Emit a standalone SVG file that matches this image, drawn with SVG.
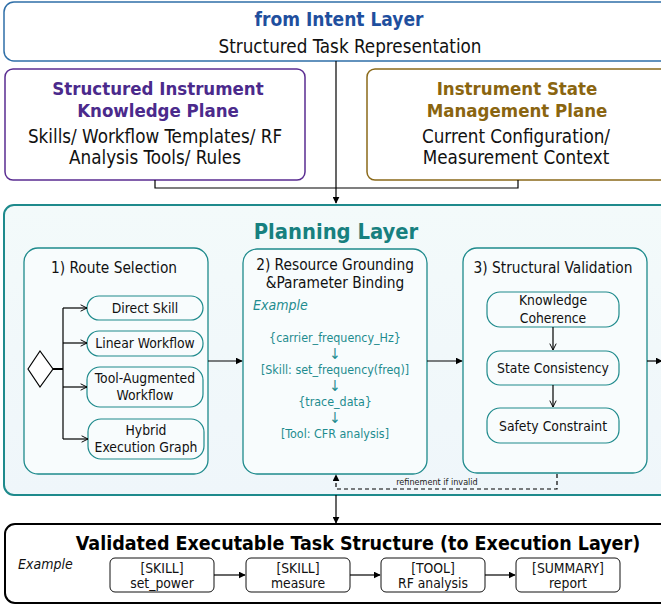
<svg xmlns="http://www.w3.org/2000/svg" width="661" height="605" viewBox="0 0 661 605">
<defs>
<marker id="fa" viewBox="0 0 10 10" refX="9" refY="5" markerWidth="7" markerHeight="7" orient="auto" markerUnits="userSpaceOnUse"><path d="M0,0 L10,5 L0,10 z" fill="#000"/></marker>
<marker id="oa" viewBox="0 0 10 10" refX="9" refY="5" markerWidth="8" markerHeight="8" orient="auto" markerUnits="userSpaceOnUse"><path d="M1,1 L9,5 L1,9" fill="none" stroke="#000" stroke-width="1.2"/></marker>
<linearGradient id="pg" x1="0" y1="0" x2="0" y2="1"><stop offset="0" stop-color="#f3fafa"/><stop offset="1" stop-color="#eff6fa"/></linearGradient>
</defs>
<style>
text{font-family:"DejaVu Sans Condensed","DejaVu Sans",sans-serif;text-anchor:middle;dominant-baseline:central}
.b{font-weight:bold}
.t16{font-size:18.7px;fill:#111}
.sub{font-size:15.3px;fill:#111}
.opt{font-size:13.8px;fill:#111}
.ex{font-size:12.4px;fill:#1e8c8f}
.ar{font-size:15px;fill:#1e8c8f}
.tealbox{fill:#f8fcfd;stroke:#1e8a8c;stroke-width:1.3}
.opbox{fill:#f8fcfd;stroke:#1e8a8c;stroke-width:1.2}
.ln{stroke:#000;stroke-width:1.2;fill:none}
.sm{fill:#fff;stroke:#111;stroke-width:1}
</style>
<g id="intent">
<rect x="4" y="2" width="672" height="59" rx="10" fill="#fff" stroke="#2f6fa8" stroke-width="1.5"/>
<text x="339" y="19" class="b" font-size="19" fill="#1f4f9e">from Intent Layer</text>
<text x="350" y="46" class="t16">Structured Task Representation</text>
</g>
<g id="knowledge">
<rect x="5" y="69" width="300" height="111" rx="8" fill="#fff" stroke="#5a2d91" stroke-width="1.5"/>
<text x="158" y="88" class="b" font-size="18.5" fill="#4b2a8c">Structured Instrument</text>
<text x="158" y="110" class="b" font-size="18.5" fill="#4b2a8c">Knowledge Plane</text>
<text x="155" y="136" class="t16">Skills/ Workflow Templates/ RF</text>
<text x="155" y="157" class="t16">Analysis Tools/ Rules</text>
</g>
<g id="state">
<rect x="367" y="69" width="310" height="111" rx="8" fill="#fff" stroke="#8b6a1a" stroke-width="1.5"/>
<text x="517" y="88" class="b" font-size="18.5" fill="#8a6510">Instrument State</text>
<text x="517" y="110" class="b" font-size="18.5" fill="#8a6510">Management Plane</text>
<text x="516" y="136" class="t16">Current Configuration/</text>
<text x="516" y="157" class="t16">Measurement Context</text>
</g>
<g id="planning">
<rect x="4" y="205" width="672" height="290" rx="10" fill="url(#pg)" stroke="#1e8a8c" stroke-width="2"/>
<text x="336" y="231" class="b" font-size="21.8" fill="#17807f">Planning Layer</text>
</g>
<g id="route">
<rect x="24" y="248" width="184" height="226" rx="14" class="tealbox"/>
<text x="114" y="268" class="sub">1) Route Selection</text>
<path d="M28,369 L40,351 L53,369 L40,387 Z" fill="#fff" stroke="#000" stroke-width="1.2"/>
</g>
<g id="opt-direct"><rect x="87" y="296" width="116" height="24" rx="12" class="opbox"/><text x="145" y="308" class="opt">Direct Skill</text></g>
<g id="opt-linear"><rect x="87" y="331" width="116" height="25" rx="12" class="opbox"/><text x="145" y="343" class="opt">Linear Workflow</text></g>
<g id="opt-tool"><rect x="87" y="367" width="116" height="40" rx="13" class="opbox"/><text x="145" y="378" class="opt">Tool-Augmented</text><text x="145" y="395" class="opt">Workflow</text></g>
<g id="opt-hybrid"><rect x="88" y="419" width="116" height="40" rx="13" class="opbox"/><text x="146" y="430" class="opt">Hybrid</text><text x="146" y="447" class="opt">Execution Graph</text></g>
<g id="grounding">
<rect x="243" y="249" width="184" height="225" rx="14" class="tealbox"/>
<text x="335" y="265" class="sub">2) Resource Grounding</text>
<text x="335" y="283" class="sub">&amp;Parameter Binding</text>
<text x="253" y="305" font-size="14" font-style="italic" fill="#1e8c8f" style="text-anchor:start">Example</text>
<text x="335" y="337" class="ex">{carrier_frequency_Hz}</text>
<text x="335" y="354" class="ar">↓</text>
<text x="335" y="369" class="ex">[Skill: set_frequency(freq)]</text>
<text x="335" y="386" class="ar">↓</text>
<text x="335" y="401" class="ex">{trace_data}</text>
<text x="335" y="418" class="ar">↓</text>
<text x="335" y="433" class="ex">[Tool: CFR analysis]</text>
</g>
<g id="validation">
<rect x="463" y="248" width="184" height="225" rx="14" class="tealbox"/>
<text x="553" y="268" class="sub">3) Structural Validation</text>
</g>
<g id="val-knowledge"><rect x="487" y="292" width="132" height="35" rx="13" class="opbox"/><text x="553" y="300" class="opt">Knowledge</text><text x="553" y="318" class="opt">Coherence</text></g>
<g id="val-state"><rect x="487" y="351" width="132" height="34" rx="13" class="opbox"/><text x="553" y="368" class="opt">State Consistency</text></g>
<g id="val-safety"><rect x="487" y="408" width="132" height="35" rx="13" class="opbox"/><text x="553" y="426" class="opt">Safety Constraint</text></g>
<g id="output">
<rect x="5" y="524" width="672" height="79" rx="10" fill="#fff" stroke="#000" stroke-width="2"/>
<text x="358" y="543" class="b" font-size="19.5" fill="#000">Validated Executable Task Structure (to Execution Layer)</text>
<text x="18" y="564" font-size="14" font-style="italic" fill="#111" style="text-anchor:start">Example</text>
</g>
<g id="step1"><rect x="110" y="558" width="104" height="34" rx="5" class="sm"/><text x="162" y="568" class="opt">[SKILL]</text><text x="162" y="583" class="opt">set_power</text></g>
<g id="step2"><rect x="246" y="558" width="104" height="34" rx="5" class="sm"/><text x="298" y="568" class="opt">[SKILL]</text><text x="298" y="583" class="opt">measure</text></g>
<g id="step3"><rect x="381" y="558" width="104" height="34" rx="5" class="sm"/><text x="433" y="568" class="opt">[TOOL]</text><text x="433" y="583" class="opt">RF analysis</text></g>
<g id="step4"><rect x="516" y="558" width="104" height="34" rx="5" class="sm"/><text x="568" y="568" class="opt">[SUMMARY]</text><text x="568" y="583" class="opt">report</text></g>
<g id="connectors">
<path class="ln" d="M336,61 V203" marker-end="url(#fa)"/>
<path class="ln" d="M155,180 V188 H518 V180"/>
<path d="M53,369 H63" stroke="#000" stroke-width="2"/>
<path class="ln" d="M63,308 V439"/>
<path class="ln" d="M63,308 H87" marker-end="url(#oa)"/>
<path class="ln" d="M63,343 H87" marker-end="url(#oa)"/>
<path class="ln" d="M63,387 H87" marker-end="url(#oa)"/>
<path class="ln" d="M63,439 H88" marker-end="url(#oa)"/>
<path class="ln" d="M208,361 H242" marker-end="url(#fa)"/>
<path class="ln" d="M427,361 H462" marker-end="url(#fa)"/>
<path class="ln" d="M647,361 H662" marker-end="url(#fa)"/>
<path class="ln" d="M553,327 V350" marker-end="url(#oa)"/>
<path class="ln" d="M553,385 V407" marker-end="url(#oa)"/>
<path class="ln" d="M557,474 V489 H336 V475" stroke-dasharray="4,3" marker-end="url(#fa)"/>
<text x="437" y="482" font-size="9" fill="#222">refinement if invalid</text>
<path class="ln" d="M336,495 V523" marker-end="url(#fa)"/>
<path class="ln" d="M214,575 H245" marker-end="url(#fa)"/>
<path class="ln" d="M350,575 H380" marker-end="url(#fa)"/>
<path class="ln" d="M485,575 H515" marker-end="url(#fa)"/>
</g>
</svg>
